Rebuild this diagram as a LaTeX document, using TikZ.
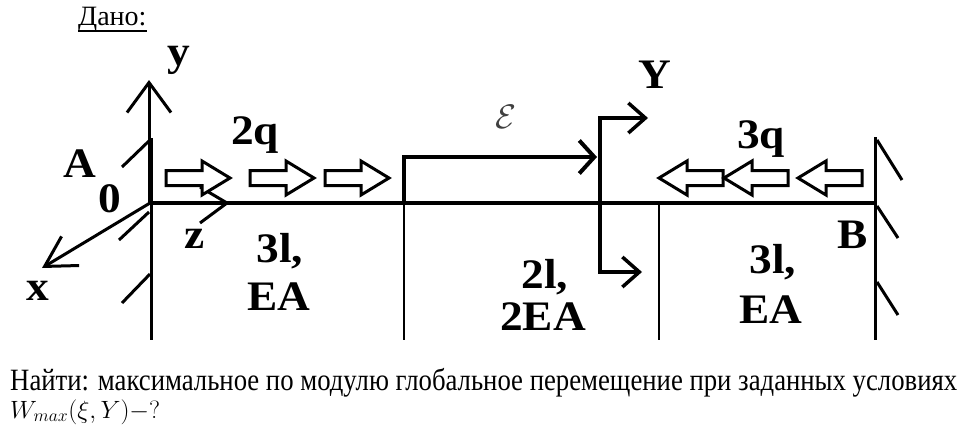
\RequirePackage{fix-cm}
\documentclass[tikz,border=0pt]{standalone}
\usepackage{fontspec}
\setmainfont{Liberation Serif}
\usetikzlibrary{arrows.meta,calc}
\newcommand\widetxt[1]{\scalebox{1.08}[1]{#1}}
\begin{document}
\begin{tikzpicture}[x=1pt,y=-1pt,
  lbl/.style={font=\fontsize{42}{46}\selectfont\bfseries, inner sep=0pt, anchor=base},
  beam/.style={line width=4pt},
  wall/.style={line width=3pt},
  hatch/.style={line width=3pt},
  divider/.style={line width=2.5pt},
  axis/.style={line width=3pt},
  blk/.style={line width=3pt, line join=miter, fill=white},
  pics/rblock/.style={code={\draw[blk] (0,-7.5) -- (36,-7.5) -- (36,-17) -- (64,0) -- (36,17) -- (36,7.5) -- (0,7.5) -- cycle;}},
  pics/lblock/.style={code={\draw[blk] (0,-7.5) -- (-36,-7.5) -- (-36,-17) -- (-64,0) -- (-36,17) -- (-36,7.5) -- (0,7.5) -- cycle;}}
]
\useasboundingbox (0,0) rectangle (968,436);
\fill[white] (0,0) rectangle (968,436);

% title
\node[anchor=base west, inner sep=0pt, font=\fontsize{28}{32}\selectfont] (given) at (78,26) {Дано:};
\draw[line width=1.5pt] ($(given.base west)+(0,5)$) -- ($(given.base east)+(0,5)$);

% key coordinates
\coordinate (O) at (150,203);
\coordinate (B) at (875,203);
\coordinate (ytip) at (149,80);
\coordinate (xtip) at (42,268);
\coordinate (ztip) at (227,203);

% beam
\draw[beam] (O) -- (B);

% walls
\draw[wall] (151,138) -- (151,340);
\draw[wall] (875,137) -- (875,340);
\draw[hatch] (150,140) -- (122,167);
\draw[hatch] (149,212) -- (119,240);
\draw[hatch] (150,274) -- (122,303);
\draw[hatch] (877,140) -- (902,180);
\draw[hatch] (877,206) -- (898,238);
\draw[hatch] (877,282) -- (898,315);

% dividers
\draw[divider] (404,203) -- (404,340);
\draw[divider] (659,203) -- (659,340);

% axes
\draw[axis,-{Straight Barb[length=30pt,width=44pt]}] (149,203) -- (ytip);
\draw[axis,-{Straight Barb[length=30pt,width=34pt]}] (O) -- (xtip);
\draw[axis] (200,187) -- (ztip) -- (200,223);

% xi arrow
\draw[line width=4pt,-{Straight Barb[length=15pt,width=33pt]}] (404,205) -- (404,157) -- (597,157);
% Y force
\draw[line width=3.5pt,{Straight Barb[length=17pt,width=30pt]}-{Straight Barb[length=17pt,width=30pt]}] (648,118) -- (600,118) -- (600,272) -- (642,272);

% distributed loads
\pic at (166,178) {rblock};
\pic at (250,178) {rblock};
\pic at (325,178) {rblock};
\pic at (723,178) {lblock};
\pic at (788,178) {lblock};
\pic at (862,178) {lblock};

% labels
\node[lbl] (q2) at (255,144) {\widetxt{2q}};
\node[lbl] (q3) at (761,148) {\widetxt{3q}};
\node[lbl] (l1) at (280,262) {\widetxt{3l,}};
\node[lbl] (e1) at (279,310) {\widetxt{EA}};
\node[lbl] (l2) at (545,288) {\widetxt{2l,}};
\node[lbl] (e2) at (543,330) {\widetxt{2EA}};
\node[lbl] (l3) at (773,273) {\widetxt{3l,}};
\node[lbl] (e3) at (771,323) {\widetxt{EA}};
\node[lbl] (lA) at (80,177) {\widetxt{A}};
\node[lbl] (l0) at (110,212) {\widetxt{0}};
\node[lbl] (ly) at (179,65) {\widetxt{y}};
\node[lbl] (lx) at (38,300) {\widetxt{x}};
\node[lbl] (lz) at (195,248) {\widetxt{z}};
\node[lbl] (lY) at (655,88) {\widetxt{Y}};
\node[lbl] (lB) at (853,248) {\widetxt{B}};
\node[inner sep=0pt, text=black!75, font=\fontsize{34}{34}\selectfont] (eps) at (506,117) {$\mathcal{E}$};

% bottom text
\node[anchor=base west, inner sep=0pt] (find) at (10,390) {\resizebox{947pt}{\height}{\fontsize{31}{34}\selectfont Найти: максимальное по модулю глобальное перемещение при заданных условиях}};
\node[anchor=base west, inner sep=0pt] (wmax) at (10,418) {\resizebox{150pt}{\height}{\fontsize{25}{28}\selectfont $W_{max}(\xi, Y)-?$}};
\end{tikzpicture}
\end{document}
